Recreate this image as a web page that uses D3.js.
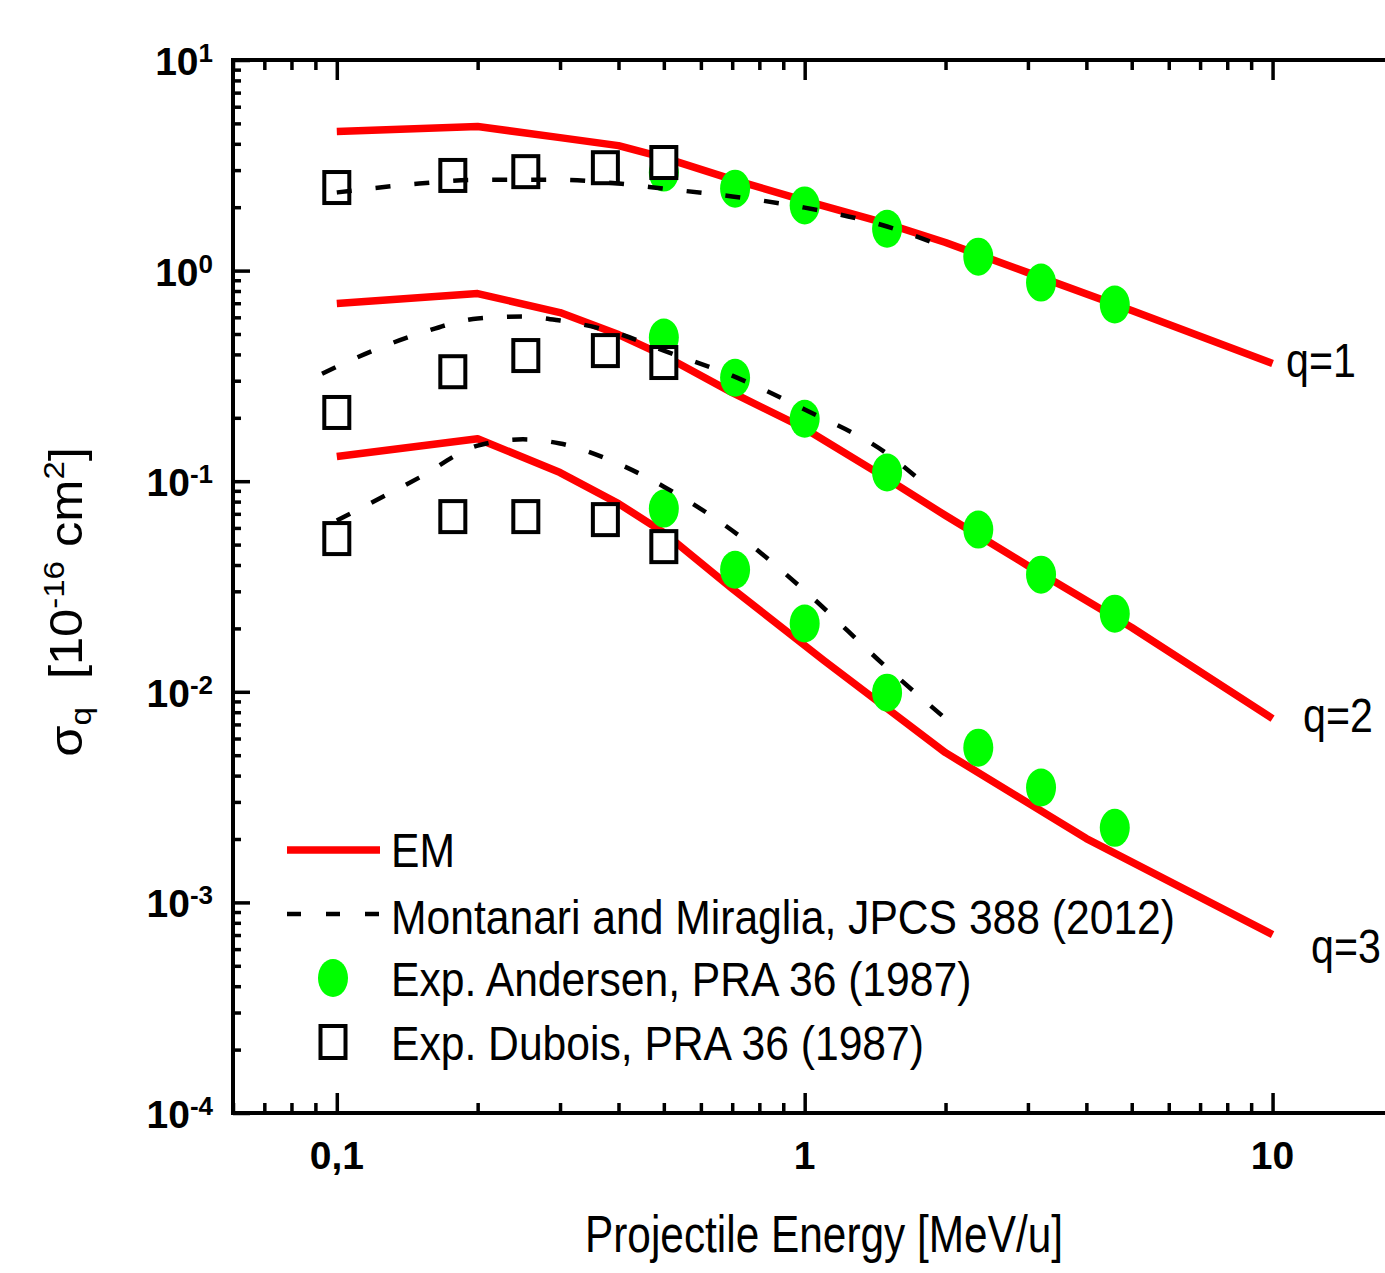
<!DOCTYPE html>
<html><head><meta charset="utf-8">
<script src="https://cdn.jsdelivr.net/npm/d3@7"></script>
<style>
html,body{margin:0;padding:0;background:#fff;}
svg text{white-space:pre;}
</style></head>
<body><svg id="chart" width="1385" height="1273"></svg>
<script>
// ---------- data ----------
const xMajorTicks = [0.1, 1, 10];
const xTickLabels = ["0,1", "1", "10"];
const yExponents = [1, 0, -1, -2, -3, -4];

// EM theory (red solid)
const emE12 = [0.1, 0.2, 0.3, 0.4, 0.5, 0.7, 1, 1.5, 2, 3, 5, 10];
const emQ1 = [4.57, 4.83, 4.28, 3.92, 3.44, 2.71, 2.15, 1.67, 1.36, 0.978, 0.646, 0.362];
const emQ2 = [0.697, 0.778, 0.632, 0.497, 0.395, 0.2635, 0.178, 0.1029, 0.0687, 0.0397, 0.0202, 0.00746];
const emE3 = [0.1, 0.2, 0.3, 0.4, 0.5, 0.7, 1.1, 2, 4, 10];
const emQ3 = [0.1309, 0.1592, 0.1099, 0.0783, 0.0570, 0.0309, 0.01406, 0.00514, 0.00201, 0.000703];

// Montanari and Miraglia (black dashed)
const montE1 = [0.1, 0.15, 0.2, 0.3, 0.4, 0.5, 0.7, 1, 1.5, 2];
const montQ1 = [2.35, 2.59, 2.70, 2.70, 2.59, 2.45, 2.25, 1.99, 1.62, 1.29];
const montE2 = [0.093, 0.1, 0.15, 0.2, 0.25, 0.3, 0.4, 0.5, 0.7, 1, 1.5, 1.8];
const montQ2 = [0.324, 0.350, 0.502, 0.592, 0.605, 0.579, 0.502, 0.417, 0.317, 0.219, 0.135, 0.0974];
const montE3 = [0.1, 0.15, 0.2, 0.25, 0.3, 0.4, 0.5, 0.7, 1, 1.5, 2];
const montQ3 = [0.065, 0.104, 0.1476, 0.158, 0.151, 0.121, 0.0942, 0.0583, 0.0302, 0.0130, 0.00746];

// Exp. Andersen (green circles)
const andE = [0.5, 0.71, 1.0, 1.5, 2.35, 3.2, 4.6];
const andQ1 = [2.92, 2.45, 2.04, 1.58, 1.165, 0.877, 0.690];
const andQ2 = [0.481, 0.310, 0.198, 0.110, 0.0589, 0.0360, 0.0235];
const andQ3 = [0.0741, 0.0380, 0.0211, 0.00991, 0.00543, 0.00351, 0.00226];

// Exp. Dubois (open squares)
const dubE = [0.1, 0.177, 0.2535, 0.375, 0.5];
const dubQ1 = [2.48, 2.83, 2.95, 3.08, 3.26];
const dubQ2 = [0.212, 0.331, 0.395, 0.417, 0.366];
const dubQ3 = [0.0534, 0.0679, 0.0679, 0.0657, 0.0489];

const legendLabels = ["EM", "Montanari and Miraglia, JPCS 388 (2012)", "Exp. Andersen, PRA 36 (1987)", "Exp. Dubois, PRA 36 (1987)"];
const qLabels = ["q=1", "q=2", "q=3"];

// ---------- drawing ----------
const svg = d3.select("#chart");
const FONT = "'Liberation Sans', Arial, Helvetica, sans-serif";
const RED = "#ff0000", GREEN = "#00ff00";
const L = 233, R = 1392, T = 60, B = 1113;
const x = d3.scaleLog().domain([0.06, 18]).range([L, R]);
const y = d3.scaleLog().domain([1e-4, 10]).range([B, T]);

svg.append("rect").attr("width", 1385).attr("height", 1273).attr("fill", "#fff");

const zip = (E, V) => E.map((e, i) => [e, V[i]]);
const lineGen = d3.line().x(d => x(d[0])).y(d => y(d[1]));
const dashGen = d3.line().x(d => x(d[0])).y(d => y(d[1])).curve(d3.curveMonotoneX);

// minor ticks
const xMinor = [];
for (let d = -2; d <= 1; d++) for (let k = 2; k <= 9; k++) {
  const v = k * Math.pow(10, d);
  if (v >= 0.06 && v <= 18) xMinor.push(v);
}
const yMinor = [];
for (let d = -4; d <= 0; d++) for (let k = 2; k <= 9; k++) yMinor.push(k * Math.pow(10, d));
const yMajor = yExponents.map(e => Math.pow(10, e));

function styleAxis(g, w) {
  g.select(".domain").remove();
  g.selectAll(".tick line").attr("stroke", "#000").attr("stroke-width", w);
  g.selectAll(".tick text").remove();
}
// bottom axis (ticks pointing up)
svg.append("g").attr("transform", `translate(0,${B})`)
  .call(d3.axisTop(x).tickValues(xMajorTicks).tickSize(20).tickSizeOuter(0)).call(g => styleAxis(g, 3.5));
svg.append("g").attr("transform", `translate(0,${B})`)
  .call(d3.axisTop(x).tickValues(xMinor).tickSize(10).tickSizeOuter(0)).call(g => styleAxis(g, 3.5));
// top axis (ticks pointing down)
svg.append("g").attr("transform", `translate(0,${T})`)
  .call(d3.axisBottom(x).tickValues(xMajorTicks).tickSize(20).tickSizeOuter(0)).call(g => styleAxis(g, 3.5));
svg.append("g").attr("transform", `translate(0,${T})`)
  .call(d3.axisBottom(x).tickValues(xMinor).tickSize(10).tickSizeOuter(0)).call(g => styleAxis(g, 3.5));
// left axis (ticks pointing right)
svg.append("g").attr("transform", `translate(${L},0)`)
  .call(d3.axisRight(y).tickValues(yMajor).tickSize(17).tickSizeOuter(0)).call(g => styleAxis(g, 3.5));
svg.append("g").attr("transform", `translate(${L},0)`)
  .call(d3.axisRight(y).tickValues(yMinor).tickSize(8).tickSizeOuter(0)).call(g => styleAxis(g, 3.5));

// frame lines
const frame = svg.append("g").attr("stroke", "#000").attr("stroke-width", 4).attr("stroke-linecap", "square");
frame.append("line").attr("x1", L).attr("x2", R).attr("y1", T).attr("y2", T);
frame.append("line").attr("x1", L).attr("x2", R).attr("y1", B).attr("y2", B);
frame.append("line").attr("x1", L).attr("x2", L).attr("y1", T).attr("y2", B);
frame.append("line").attr("x1", R).attr("x2", R).attr("y1", T).attr("y2", B);

// x tick labels
svg.append("g").selectAll("text").data(xMajorTicks).join("text")
  .attr("x", d => x(d)).attr("y", 1169).attr("text-anchor", "middle")
  .attr("font-family", FONT).attr("font-weight", "bold").attr("font-size", 39)
  .text((d, i) => xTickLabels[i]);

// y tick labels 10^n
const yl = svg.append("g").selectAll("text").data(yExponents).join("text")
  .attr("x", 213).attr("y", d => y(Math.pow(10, d)) + 15).attr("text-anchor", "end")
  .attr("font-family", FONT).attr("font-weight", "bold").attr("font-size", 39);
yl.append("tspan").text("10");
yl.append("tspan").attr("dy", -13).attr("font-size", 26).text(d => String(d));

// --- series ---
const emSets = [zip(emE12, emQ1), zip(emE12, emQ2), zip(emE3, emQ3)];
const montSets = [zip(montE1, montQ1), zip(montE2, montQ2), zip(montE3, montQ3)];
const andSets = [zip(andE, andQ1), zip(andE, andQ2), zip(andE, andQ3)];
const dubSets = [zip(dubE, dubQ1), zip(dubE, dubQ2), zip(dubE, dubQ3)];

svg.append("g").selectAll("path").data(emSets).join("path")
  .attr("d", lineGen).attr("fill", "none").attr("stroke", RED).attr("stroke-width", 7.5)
  .attr("stroke-linejoin", "round");

svg.append("g").selectAll("g").data(andSets).join("g").selectAll("ellipse").data(d => d).join("ellipse")
  .attr("cx", d => x(d[0])).attr("cy", d => y(d[1])).attr("rx", 15).attr("ry", 19).attr("fill", GREEN);

svg.append("g").selectAll("g").data(dubSets).join("g").selectAll("rect").data(d => d).join("rect")
  .attr("x", d => x(d[0]) - 12.5).attr("y", d => y(d[1]) - 15.5).attr("width", 25).attr("height", 31)
  .attr("fill", "#fff").attr("stroke", "#000").attr("stroke-width", 4);

svg.append("g").selectAll("path").data(montSets).join("path")
  .attr("d", dashGen).attr("fill", "none").attr("stroke", "#000").attr("stroke-width", 4.5)
  .attr("stroke-dasharray", "15,24");

// q labels
const qPos = [[1286, 377], [1303, 732], [1311, 963]];
svg.append("g").selectAll("text").data(qLabels).join("text")
  .attr("transform", (d, i) => `translate(${qPos[i][0]},${qPos[i][1]}) scale(0.84,1)`)
  .attr("font-family", FONT).attr("font-size", 49).text(d => d);

// legend
const lg = svg.append("g");
const rowY = [850, 914, 978, 1042];
lg.append("line").attr("x1", 287).attr("x2", 380).attr("y1", rowY[0]).attr("y2", rowY[0])
  .attr("stroke", RED).attr("stroke-width", 7.5);
lg.append("line").attr("x1", 287).attr("x2", 380).attr("y1", rowY[1]).attr("y2", rowY[1])
  .attr("stroke", "#000").attr("stroke-width", 4.5).attr("stroke-dasharray", "14,25");
lg.append("ellipse").attr("cx", 333).attr("cy", rowY[2]).attr("rx", 15).attr("ry", 19).attr("fill", GREEN);
lg.append("rect").attr("x", 333 - 12.5).attr("y", rowY[3] - 16).attr("width", 25).attr("height", 32)
  .attr("fill", "#fff").attr("stroke", "#000").attr("stroke-width", 4);
const baseY = [867, 934, 996, 1060];
lg.selectAll("text").data(legendLabels).join("text")
  .attr("transform", (d, i) => `translate(391,${baseY[i]}) scale(0.87,1)`)
  .attr("font-family", FONT).attr("font-size", 49).text(d => d);

// axis titles
svg.append("text").attr("transform", "translate(824,1252) scale(0.815,1)")
  .attr("text-anchor", "middle").attr("font-family", FONT).attr("font-size", 52)
  .text("Projectile Energy [MeV/u]");

const yt = svg.append("text").attr("transform", "translate(82,602) rotate(-90) scale(1.1,1)")
  .attr("text-anchor", "middle").attr("font-family", FONT).attr("font-size", 46);
yt.append("tspan").text("σ");
yt.append("tspan").attr("font-size", 30).attr("dy", 9).text("q");
yt.append("tspan").attr("dy", -9).text("  [10");
yt.append("tspan").attr("font-size", 30).attr("dy", -18).text("-16");
yt.append("tspan").attr("dy", 18).text(" cm");
yt.append("tspan").attr("font-size", 30).attr("dy", -18).text("2");
yt.append("tspan").attr("dy", 18).text("]");
</script></body></html>
